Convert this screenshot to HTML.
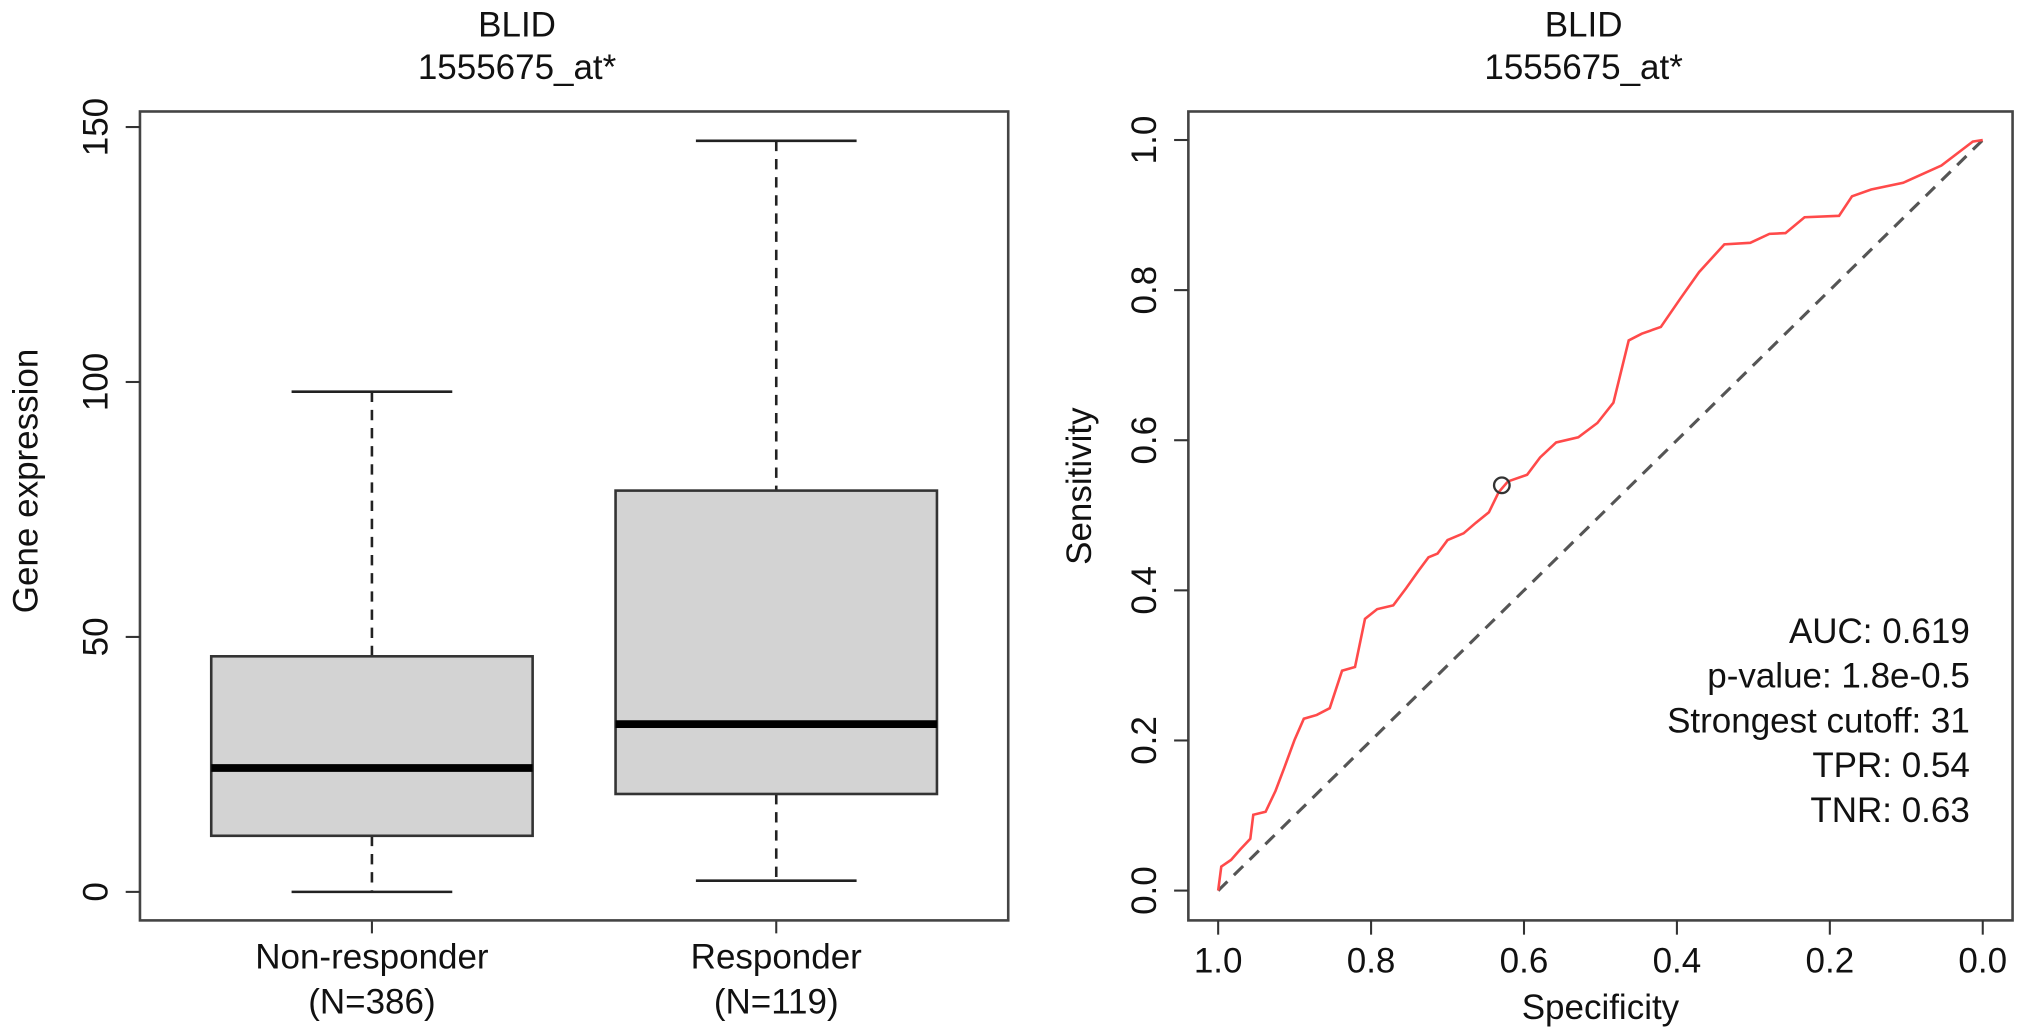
<!DOCTYPE html>
<html><head><meta charset="utf-8"><style>
html,body{margin:0;padding:0;background:#fff;}
svg{display:block;font-family:"Liberation Sans",Arial,sans-serif;}
</style></head><body>
<svg id="fig" width="2032" height="1028" viewBox="0 0 1568 793" preserveAspectRatio="none" xmlns="http://www.w3.org/2000/svg">
<g id="left"></g>
<g id="right"></g>
</svg>
<script>
// Boxplot data
const groups = ["Non-responder", "Responder"];
const groupN = ["(N=386)", "(N=119)"];
const whiskerLow = [0, 2.2];
const q1 = [11, 19.2];
const medians = [24.3, 32.9];
const q3 = [46.2, 78.7];
const whiskerHigh = [98.1, 147.3];
const yTicks = [0, 50, 100, 150];
// ROC data
const specificity = [1.000,0.996,0.983,0.971,0.958,0.954,0.938,0.925,0.913,0.900,0.888,0.871,0.854,0.838,0.821,0.808,0.792,0.771,0.754,0.738,0.725,0.713,0.700,0.679,0.663,0.646,0.633,0.621,0.596,0.579,0.558,0.529,0.504,0.483,0.463,0.446,0.421,0.396,0.371,0.338,0.304,0.279,0.258,0.233,0.188,0.171,0.146,0.104,0.054,0.013,0.000];
const sensitivity = [0.000,0.032,0.041,0.055,0.069,0.101,0.105,0.133,0.165,0.201,0.229,0.234,0.243,0.293,0.298,0.362,0.375,0.380,0.403,0.426,0.444,0.449,0.467,0.476,0.490,0.504,0.531,0.545,0.554,0.577,0.597,0.604,0.623,0.650,0.733,0.742,0.751,0.788,0.824,0.861,0.863,0.875,0.876,0.897,0.899,0.925,0.934,0.943,0.966,0.998,1.000];
const cutoffPoint = [0.629, 0.540];
const rocTicks = [0.0, 0.2, 0.4, 0.6, 0.8, 1.0];
const rocTickLabels = ["0.0","0.2","0.4","0.6","0.8","1.0"];
const stats = ["AUC: 0.619","p-value: 1.8e-0.5","Strongest cutoff: 31","TPR: 0.54","TNR: 0.63"];

const NS="http://www.w3.org/2000/svg";
const FS=27;
function mk(parent, tag, attrs, text){const e=document.createElementNS(NS,tag);for(const k in attrs)e.setAttribute(k,attrs[k]);if(text!==undefined)e.textContent=text;parent.appendChild(e);return e;}

// ---- Left panel
const L=document.getElementById('left');
const yL=v=>688-(v/150)*590;
const boxCx=[287,599], halfW=124, capW=62;
let e;
e=mk(L,'text',{x:399,y:28,'text-anchor':'middle','font-size':FS,fill:'#111'},'BLID');

e=mk(L,'text',{x:399,y:61,'text-anchor':'middle','font-size':FS,fill:'#111'},'1555675_at*');

for(let i=0;i<groups.length;i++){
  const cx=boxCx[i];
  const g=mk(L,'g',{});
  
  
  mk(g,'line',{x1:cx,x2:cx,y1:yL(whiskerHigh[i]),y2:yL(q3[i]),stroke:'#222','stroke-width':2,'stroke-dasharray':'8,6'});
  mk(g,'line',{x1:cx,x2:cx,y1:yL(q1[i]),y2:yL(whiskerLow[i]),stroke:'#222','stroke-width':2,'stroke-dasharray':'8,6'});
  mk(g,'line',{x1:cx-capW,x2:cx+capW,y1:yL(whiskerHigh[i]),y2:yL(whiskerHigh[i]),stroke:'#222','stroke-width':2});
  mk(g,'line',{x1:cx-capW,x2:cx+capW,y1:yL(whiskerLow[i]),y2:yL(whiskerLow[i]),stroke:'#222','stroke-width':2});
  mk(g,'rect',{x:cx-halfW,y:yL(q3[i]),width:2*halfW,height:yL(q1[i])-yL(q3[i]),fill:'#d3d3d3',stroke:'#333','stroke-width':2});
  mk(g,'line',{x1:cx-halfW,x2:cx+halfW,y1:yL(medians[i]),y2:yL(medians[i]),stroke:'#000','stroke-width':6});
  mk(L,'line',{x1:cx,x2:cx,y1:710,y2:720,stroke:'#333','stroke-width':1.6});
  e=mk(L,'text',{x:cx,y:747,'text-anchor':'middle','font-size':FS,fill:'#111'},groups[i]);
  
  e=mk(L,'text',{x:cx,y:782,'text-anchor':'middle','font-size':FS,fill:'#111'},groupN[i]);
  
}
e=mk(L,'rect',{x:108,y:86,width:670,height:624,fill:'none',stroke:'#444','stroke-width':2});

yTicks.forEach(t=>{
  mk(L,'line',{x1:97,x2:108,y1:yL(t),y2:yL(t),stroke:'#333','stroke-width':1.6});
  e=mk(L,'text',{x:0,y:0,'text-anchor':'middle','font-size':FS,fill:'#111',transform:`translate(83,${yL(t)}) rotate(-90)`},String(t));
  
});
e=mk(L,'text',{x:0,y:0,'text-anchor':'middle','font-size':FS,fill:'#111',transform:'translate(29,371) rotate(-90)'},'Gene expression');


// ---- Right panel
const R=document.getElementById('right');
const xR=s=>1530-s*590, yR=v=>687-v*579;
e=mk(R,'text',{x:1222,y:28,'text-anchor':'middle','font-size':FS,fill:'#111'},'BLID');

e=mk(R,'text',{x:1222,y:61,'text-anchor':'middle','font-size':FS,fill:'#111'},'1555675_at*');

e=mk(R,'line',{x1:xR(1),y1:yR(0),x2:xR(0),y2:yR(1),stroke:'#555','stroke-width':2.4,'stroke-dasharray':'10,7'});

const pts=specificity.map((s,i)=>xR(s).toFixed(1)+','+yR(sensitivity[i]).toFixed(1)).join(' ');
e=mk(R,'polyline',{points:pts,fill:'none',stroke:'#ff4a4a','stroke-width':2});

e=mk(R,'circle',{cx:xR(cutoffPoint[0]),cy:yR(cutoffPoint[1]),r:6,fill:'none',stroke:'#333','stroke-width':1.8});

e=mk(R,'rect',{x:917,y:86,width:636,height:624,fill:'none',stroke:'#444','stroke-width':2});

rocTicks.forEach((t,i)=>{
  mk(R,'line',{x1:906,x2:917,y1:yR(t),y2:yR(t),stroke:'#333','stroke-width':1.6});
  e=mk(R,'text',{x:0,y:0,'text-anchor':'middle','font-size':FS,fill:'#111',transform:`translate(892,${yR(t)}) rotate(-90)`},rocTickLabels[i]);
  
  mk(R,'line',{x1:xR(t),x2:xR(t),y1:710,y2:721,stroke:'#333','stroke-width':1.6});
  e=mk(R,'text',{x:xR(t),y:750,'text-anchor':'middle','font-size':FS,fill:'#111'},rocTickLabels[i]);
  
});
e=mk(R,'text',{x:1235,y:786,'text-anchor':'middle','font-size':FS,fill:'#111'},'Specificity');

e=mk(R,'text',{x:0,y:0,'text-anchor':'middle','font-size':FS,fill:'#111',transform:'translate(842,375) rotate(-90)'},'Sensitivity');

stats.forEach((s,i)=>{
  e=mk(R,'text',{x:1520,y:496+i*34.5,'text-anchor':'end','font-size':FS,fill:'#111'},s);
  
});
</script>
</body></html>
